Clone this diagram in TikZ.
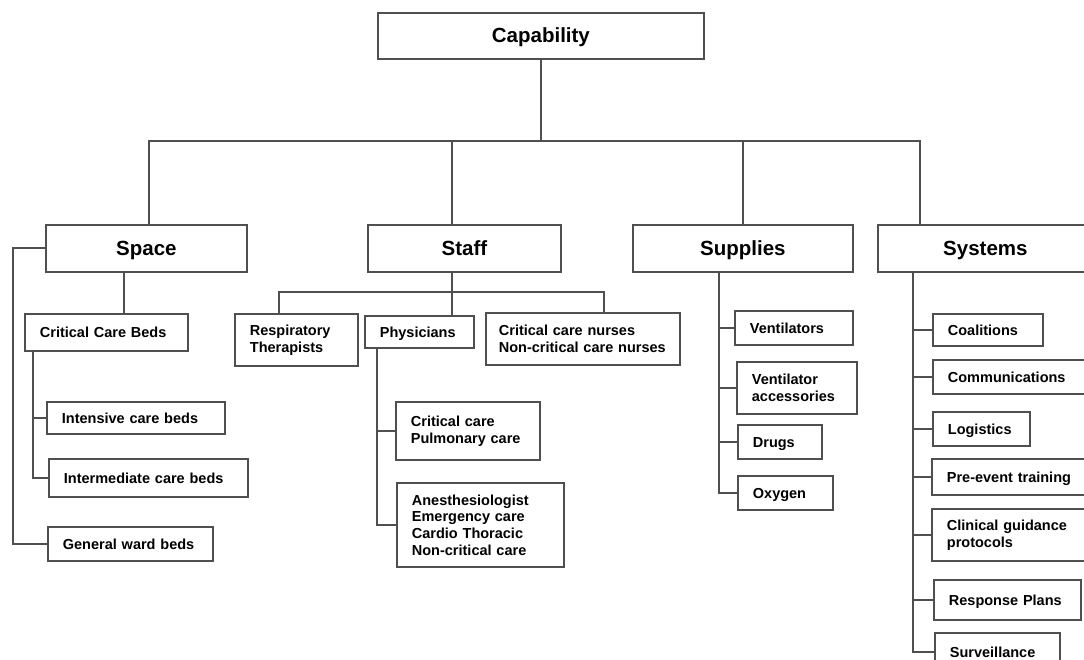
\documentclass[tikz,border=0pt]{standalone}
\usepackage{fontspec}
\setmainfont{Liberation Sans}
\newcommand{\headfont}{\fontsize{20.5}{24}\selectfont\bfseries}
\newcommand{\itemfont}{\fontsize{14.5}{16.7}\selectfont\bfseries}
\definecolor{linegray}{HTML}{4F4F4F}
\begin{document}
\begin{tikzpicture}[x=1pt,y=-1pt,
    head/.style={draw=linegray, line width=1.8pt, anchor=north west, font=\headfont,
      inner sep=0pt, minimum height=47pt, text height=14.7pt, text depth=1pt},
    block/.style={draw=linegray, line width=1.8pt, anchor=north west, font=\itemfont,
      align=left, inner xsep=15pt, inner ysep=0pt, text width=#1},
    item/.style={block=#1, text height=10.4pt, text depth=0pt},
    conn/.style={linegray, line width=1.8pt}]
      \clip (0,0) rectangle (1084,660);
      \useasboundingbox (0,0) rectangle (1084,660);
      % top and the four groups
      \node[head, minimum width=326pt, minimum height=46pt] (cap) at (377,12) {Capability};
      \node[head, minimum width=201pt] (space) at (45,224) {Space};
      \node[head, minimum width=193pt] (staff) at (367,224) {Staff};
      \node[head, minimum width=220pt] (supplies) at (632,224) {Supplies};
      \node[head, minimum width=215pt] (systems) at (877,224) {Systems};
      \coordinate (jSpace) at (149,141);
      \coordinate (jStaff) at (452,141);
      \coordinate (jSystems) at (920,141);
      \draw[conn] (cap.south) -- (cap.south |- jSpace);
      \draw[conn] (space.north -| jSpace) -- (jSpace) -- (jSystems) -- (systems.north -| jSystems);
      \draw[conn] (jStaff) -- (staff.north -| jStaff);
      \draw[conn] (supplies.north |- jSpace) -- (supplies.north);
      % space
      \node[item=133pt, minimum height=37pt] (ccb) at (24,313) {Critical Care Beds};
      \node[item=148pt, minimum height=32pt] (icb) at (46,401) {Intensive care beds};
      \node[item=169pt, minimum height=38pt] (imcb) at (48,458) {Intermediate care beds};
      \node[item=135pt, minimum height=34pt] (gwb) at (47,526) {General ward beds};
      \coordinate (spLeft) at (13,0);
      \coordinate (spDown) at (124,0);
      \coordinate (ccbRail) at (33,0);
      \draw[conn] (space.west) -| (spLeft |- gwb.west) -- (gwb.west);
      \draw[conn] (space.south -| spDown) -- (ccb.north -| spDown);
      \draw[conn] (ccb.south -| ccbRail) |- (imcb.west);
      \draw[conn] (ccbRail |- icb.west) -- (icb.west);
      % staff
      \node[block=93pt, minimum height=52pt] (resp) at (234,313) {Respiratory\\Therapists};
      \node[item=79pt, minimum height=32pt] (phys) at (364,315) {Physicians};
      \node[block=168pt, inner xsep=13pt, minimum height=52pt] (nurses) at (485,312)
        {Critical care nurses\\Non-critical care nurses};
      \node[block=114pt, minimum height=58pt] (crit) at (395,401) {Critical care\\Pulmonary care};
      \node[block=137pt, minimum height=84pt] (anes) at (396,482)
        {Anesthesiologist\\Emergency care\\Cardio Thoracic\\Non-critical care};
      \coordinate (stBarL) at (279,292);
      \coordinate (stBarR) at (604,292);
      \coordinate (physRail) at (377,0);
      \draw[conn] (staff.south -| jStaff) -- (jStaff |- stBarL);
      \draw[conn] (resp.north -| stBarL) -- (stBarL) -- (stBarR) -- (nurses.north -| stBarR);
      \draw[conn] (jStaff |- stBarL) -- (phys.north -| jStaff);
      \draw[conn] (phys.south -| physRail) |- (anes.west);
      \draw[conn] (physRail |- crit.west) -- (crit.west);
      % supplies
      \node[item=88pt, minimum height=34pt] (vent) at (734,310) {Ventilators};
      \node[block=90pt, minimum height=52pt] (vacc) at (736,361) {Ventilator\\accessories};
      \node[item=54pt, minimum height=34pt] (drugs) at (737,424) {Drugs};
      \node[item=65pt, minimum height=34pt] (oxy) at (737,475) {Oxygen};
      \coordinate (supRail) at (719,0);
      \draw[conn] (supplies.south -| supRail) |- (oxy.west);
      \foreach \n in {vent,vacc,drugs}
        \draw[conn] (supRail |- \n.west) -- (\n.west);
      % systems
      \node[item=80pt, minimum height=32pt] (coal) at (932,313) {Coalitions};
      \node[item=128pt, minimum height=34pt] (comm) at (932,359) {Communications};
      \node[item=67pt, minimum height=34pt] (logi) at (932,411) {Logistics};
      \node[item=129pt, minimum height=36pt] (pre) at (931,458) {Pre-event training};
      \node[block=129pt, minimum height=52pt] (clin) at (931,508) {Clinical guidance\\protocols};
      \node[item=117pt, minimum height=40pt] (plans) at (933,579) {Response Plans};
      \node[item=95pt, minimum height=38pt] (surv) at (934,632) {Surveillance};
      \coordinate (sysRail) at (913,0);
      \draw[conn] (systems.south -| sysRail) |- (surv.west);
      \foreach \n in {coal,comm,logi,pre,clin,plans}
        \draw[conn] (sysRail |- \n.west) -- (\n.west);
\end{tikzpicture}
\end{document}
